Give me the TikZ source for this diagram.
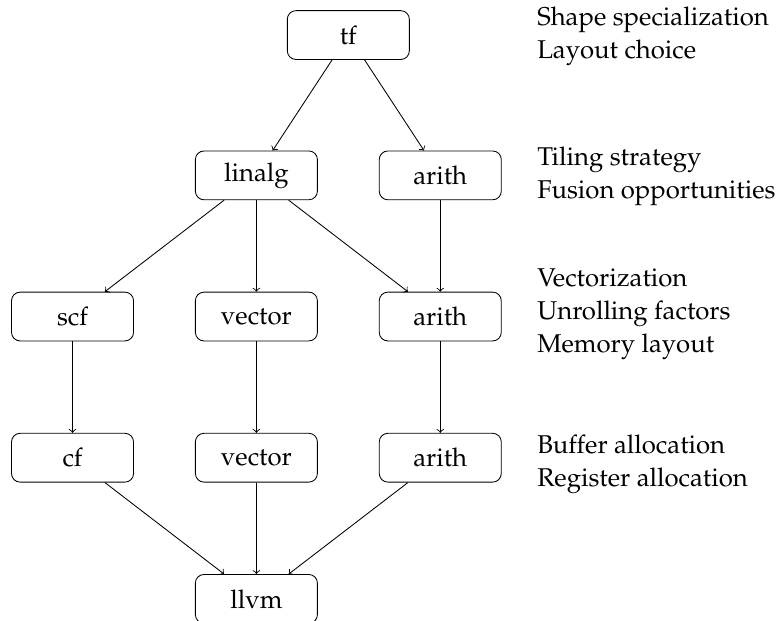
\documentclass[tikz,border=0pt]{standalone}
\usepackage[T1]{fontenc}
\usepackage{mathpazo}
\usepackage{tikz}
\usetikzlibrary{calc, positioning}

\begin{document}
\begin{tikzpicture}[
	dialect/.style={draw, rounded corners, minimum width=2cm, minimum height=0.8cm, font=\fontsize{12}{15.4}\selectfont},
	note/.style={anchor=base west, align=left, inner sep=0pt, font=\fontsize{12}{15.4}\selectfont}]
	\useasboundingbox (0, 0) rectangle (12.77, -10.164);

	\node (scf) at (1.189, -5.189) [dialect] {scf};
	\node (vector1) [dialect, right=1cm of scf] {vector};
	\node (arith2) [dialect, right=1cm of vector1] {arith};

	\node (linalg) [dialect, above=1.5cm of vector1] {linalg};
	\node (arith1) [dialect, above=1.5cm of arith2] {arith};
	\node (tf) at ($(linalg)!0.5!(arith1) + (0, 2.3)$) [dialect] {tf};

	\node (cf) [dialect, below=1.5cm of scf] {cf};
	\node (vector2) [dialect, below=1.5cm of vector1] {vector};
	\node (arith3) [dialect, below=1.5cm of arith2] {arith};
	\node (llvm) [dialect, below=1.5cm of vector2] {llvm};

	\draw [->] (tf) -- (linalg);
	\draw [->] (tf) -- (arith1);
	\draw [->] (linalg) -- (scf);
	\draw [->] (linalg) -- (vector1);
	\draw [->] (linalg) -- (arith2);
	\draw [->] (arith1) -- (arith2);
	\draw [->] (scf) -- (cf);
	\draw [->] (vector1) -- (vector2);
	\draw [->] (arith2) -- (arith3);
	\draw [->] (cf) -- (llvm);
	\draw [->] (vector2) -- (llvm);
	\draw [->] (arith3) -- (llvm);

	% what gets decided at each level
	\node (n1) at (8.80, -0.967) [note] {Shape specialization\\Layout choice};
	\node (n2) at (8.80, -3.254) [note] {Tiling strategy\\Fusion opportunities};
	\node (n3) at (8.80, -5.782) [note] {Vectorization\\Unrolling factors\\Memory layout};
	\node (n4) at (8.80, -7.979) [note] {Buffer allocation\\Register allocation};
\end{tikzpicture}
\end{document}
